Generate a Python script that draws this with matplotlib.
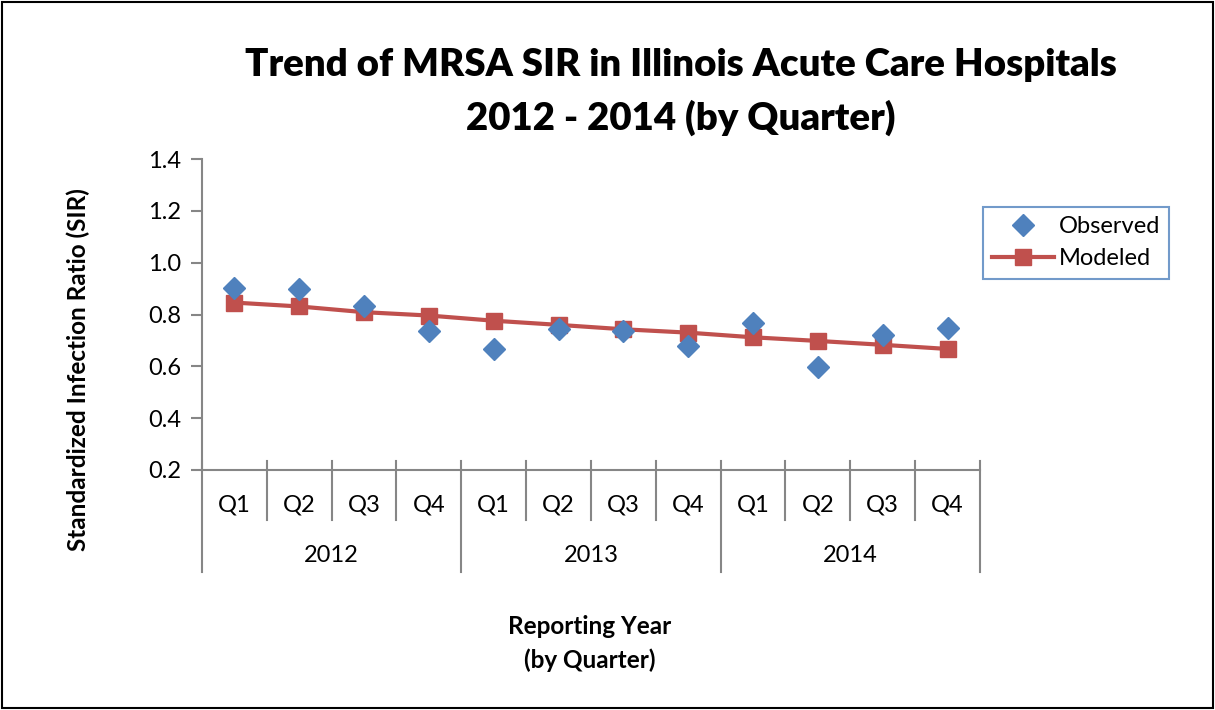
import matplotlib.pyplot as plt
from matplotlib.lines import Line2D
from matplotlib.patches import Rectangle

# quarterly data
years = ["2012", "2013", "2014"]
quarters = ["Q1", "Q2", "Q3", "Q4"]
observed = [0.901, 0.898, 0.831, 0.737, 0.667, 0.744,
            0.738, 0.680, 0.766, 0.599, 0.720, 0.749]
modeled = [0.846, 0.831, 0.809, 0.796, 0.776, 0.760,
           0.743, 0.730, 0.712, 0.698, 0.683, 0.667]

plt.rcParams['font.family'] = ['Lato', 'DejaVu Sans']

W, H = 1215, 710
fig = plt.figure(figsize=(W / 100, H / 100), dpi=100)

# outer chart border
fig.patches.append(Rectangle((2 / W, 2 / H), 1 - 4 / W, 1 - 4 / H,
                             transform=fig.transFigure, fill=False,
                             edgecolor='black', linewidth=1.5))

ax = fig.add_axes([202 / W, (H - 470) / H, (980 - 202) / W, (470 - 159) / H])

n = len(observed)
x = list(range(n))
ax.plot(x, modeled, color='#C0504D', linewidth=3, marker='s', markersize=11,
        label='Modeled', zorder=2)
ax.plot(x, observed, linestyle='none', marker='D', markersize=11,
        color='#4F81BD', label='Observed', zorder=3)

ax.set_xlim(-0.5, n - 0.5)
ax.set_ylim(0.2, 1.4)
ax.set_yticks([0.2, 0.4, 0.6, 0.8, 1.0, 1.2, 1.4])
ax.set_yticklabels([f"{v:.1f}" for v in ax.get_yticks()])
ax.set_xticks([])

for s in ['top', 'right']:
    ax.spines[s].set_visible(False)
for s in ['left', 'bottom']:
    ax.spines[s].set_color('#868686')
    ax.spines[s].set_linewidth(1.5)
ax.tick_params(axis='y', direction='out', length=8, width=1.5,
               color='#868686', labelsize=17, pad=7)

# multi-level category axis
tr = ax.get_xaxis_transform()
px = 1.0 / (470 - 159)  # one pixel in axes fraction (vertical)
for i in range(n + 1):
    b = i - 0.5
    bottom = -102 * px if i % 4 == 0 else -50 * px
    ax.add_line(Line2D([b, b], [9 * px, bottom], transform=tr, color='#868686',
                       linewidth=1.5, clip_on=False))
for i in range(n):
    ax.text(i, -35 * px, quarters[i % 4], transform=tr, ha='center',
            va='center', fontsize=17)
for j, yr in enumerate(years):
    ax.text(j * 4 + 1.5, -85 * px, yr, transform=tr, ha='center',
            va='center', fontsize=17)

fig.text(681 / W, 1 - 65 / H, "Trend of MRSA SIR in Illinois Acute Care Hospitals",
         ha='center', va='center', fontsize=27.6, fontweight='heavy')
fig.text(681 / W, 1 - 118 / H, "2012 - 2014 (by Quarter)",
         ha='center', va='center', fontsize=27.6, fontweight='heavy')
fig.text(78 / W, 1 - 370 / H, "Standardized Infection Ratio (SIR)",
         rotation=90, ha='center', va='center', fontsize=17.5, fontweight='bold')
fig.text(590 / W, 1 - 626 / H, "Reporting Year", ha='center', va='center',
         fontsize=17.5, fontweight='bold')
fig.text(590 / W, 1 - 660 / H, "(by Quarter)", ha='center', va='center',
         fontsize=17.5, fontweight='bold')

handles, labels = ax.get_legend_handles_labels()
leg = fig.legend(handles[::-1], labels[::-1], loc='upper left',
                 bbox_to_anchor=(983 / W, 1 - 207 / H), fontsize=17,
                 frameon=True, fancybox=False, handlelength=2.6,
                 borderpad=0.4, labelspacing=0.45, handletextpad=0.2,
                 borderaxespad=0)
leg.get_frame().set_edgecolor('#4F81BD')
leg.get_frame().set_linewidth(1.5)

fig.savefig('out.png', dpi=100)
